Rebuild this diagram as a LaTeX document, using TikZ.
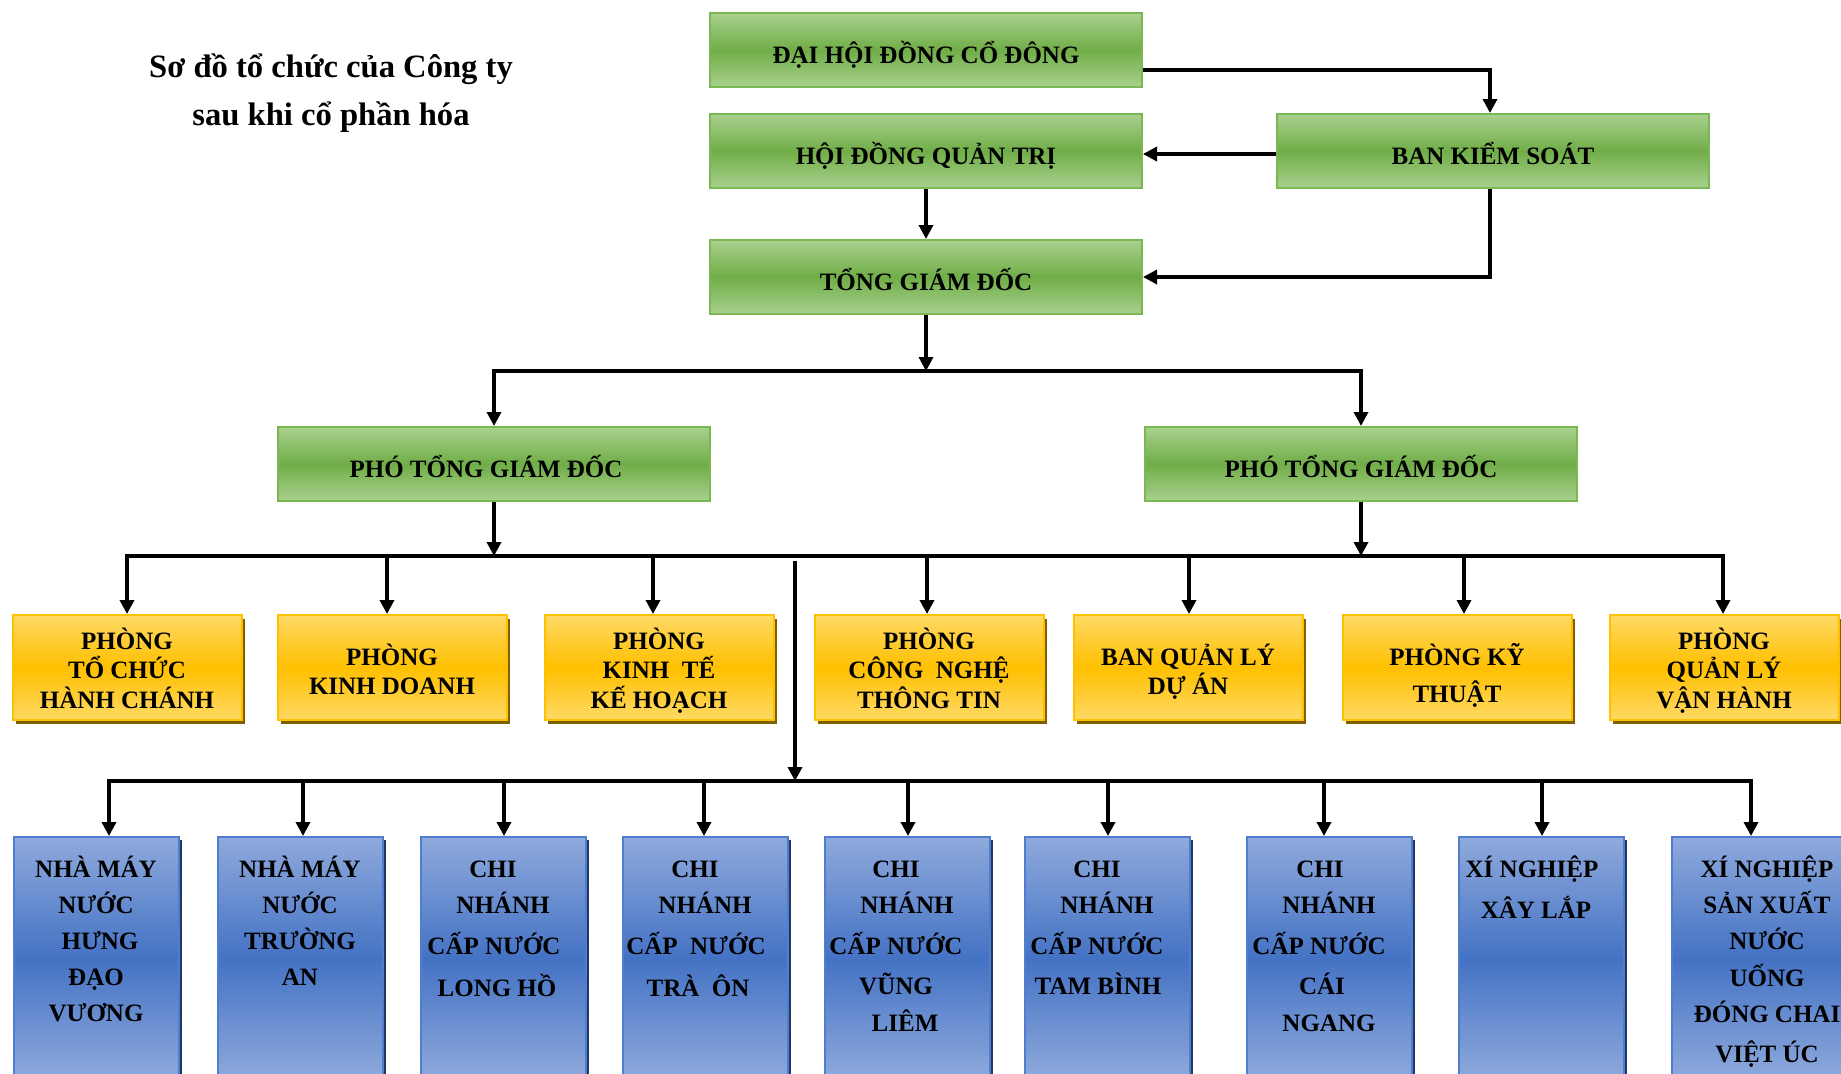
\documentclass[tikz,border=0pt]{standalone}
\usepackage{fontspec}
\setmainfont{Liberation Serif}
\usetikzlibrary{arrows.meta,shadows}
\definecolor{gTop}{RGB}{169,209,142}
\definecolor{gMid}{RGB}{112,173,71}
\definecolor{gBorder}{RGB}{122,184,84}
\definecolor{yTop}{RGB}{255,217,102}
\definecolor{yMid}{RGB}{255,192,0}
\definecolor{yBorder}{RGB}{255,192,0}
\definecolor{yShadow}{RGB}{127,96,0}
\definecolor{bTop}{RGB}{143,170,220}
\definecolor{bMid}{RGB}{68,114,196}
\definecolor{bBorder}{RGB}{80,125,205}
\definecolor{bShadow}{RGB}{32,56,100}
\newcommand\fstr{\rule{0pt}{13pt}}
\begin{document}
\begin{tikzpicture}[x=0.5pt,y=-0.5pt,
  gbox/.style={draw=gBorder, line width=1pt, top color=gTop, bottom color=gTop, middle color=gMid,
    minimum width=216pt, minimum height=37pt, inner sep=0pt,
    font=\fontsize{12.5}{15}\selectfont\bfseries, text height=13pt, text depth=0pt},
  ybox/.style={draw=yBorder, line width=1pt, top color=yTop, bottom color=yTop, middle color=yMid,
    minimum width=114.5pt, minimum height=52.5pt, inner sep=0pt,
    drop shadow={shadow xshift=1.5pt, shadow yshift=-2.2pt, fill=yShadow, opacity=1}},
  bbox/.style={draw=bBorder, line width=1pt, top color=bTop, bottom color=bTop, middle color=bMid,
    minimum width=82.5pt, minimum height=121.5pt, inner sep=0pt,
    drop shadow={shadow xshift=1.5pt, shadow yshift=-1.5pt, fill=bShadow, opacity=1}},
  ytext/.style={align=center, anchor=north, inner sep=0pt, font=\fontsize{12.5}{14.75}\selectfont\bfseries},
  btext/.style={align=center, anchor=north, inner sep=0pt, font=\fontsize{12.5}{18}\selectfont\bfseries},
  titletext/.style={align=center, anchor=north, inner sep=0pt, font=\fontsize{16.3}{24}\selectfont\bfseries},
  arr/.style={line width=1.7pt, -{Triangle[length=7pt,width=7pt]}}
]
\useasboundingbox (0,0) rectangle (1841,1073);
\clip (0,0) rectangle (1841,1073);

% title
\node[titletext] (title) at (331,43) {\rule{0pt}{17pt}Sơ đồ tổ chức của Công ty\\sau khi cổ phần hóa};

% green boxes
\node[gbox] (dhcd) at (926,50) {ĐẠI HỘI ĐỒNG CỔ ĐÔNG};
\node[gbox] (hdqt) at (926,151) {HỘI ĐỒNG QUẢN TRỊ};
\node[gbox] (tgd) at (926,277) {TỔNG GIÁM ĐỐC};
\node[gbox] (bks) at (1493,151) {BAN KIỂM SOÁT};
\node[gbox] (ptgd1) at (494,464) {PHÓ TỔNG GIÁM ĐỐC\kern8pt};
\node[gbox] (ptgd2) at (1361,464) {PHÓ TỔNG GIÁM ĐỐC};

% yellow boxes
\node[ybox] (yb1) at (127,667.5) {};
\node[ybox] (yb2) at (392,667.5) {};
\node[ybox] (yb3) at (659,667.5) {};
\node[ybox] (yb4) at (929,667.5) {};
\node[ybox] (yb5) at (1188,667.5) {};
\node[ybox] (yb6) at (1457,667.5) {};
\node[ybox] (yb7) at (1724,667.5) {};
\node[ytext] (yt1) at ([yshift=-4.5pt]yb1.north) {\fstr PHÒNG\\TỔ CHỨC\\HÀNH CHÁNH};
\node[ytext] (yt2) at ([yshift=-12.5pt]yb2.north) {\fstr PHÒNG\\KINH DOANH};
\node[ytext] (yt3) at ([yshift=-4.5pt]yb3.north) {\fstr PHÒNG\\KINH~~TẾ\\KẾ HOẠCH};
\node[ytext] (yt4) at ([yshift=-4.5pt]yb4.north) {\fstr PHÒNG\\CÔNG~~NGHỆ\\THÔNG TIN};
\node[ytext] (yt5) at ([yshift=-12.5pt]yb5.north) {\fstr BAN QUẢN LÝ\\DỰ ÁN};
\node[ytext] (yt6) at ([yshift=-12.5pt]yb6.north) {\fstr PHÒNG KỸ\\[3.75pt]THUẬT};
\node[ytext] (yt7) at ([yshift=-4.5pt]yb7.north) {\fstr PHÒNG\\QUẢN LÝ\\VẬN HÀNH};

% blue boxes
\node[bbox] (bb1) at (96,958.5) {};
\node[bbox] (bb2) at (300,958.5) {};
\node[bbox] (bb3) at (503,958.5) {};
\node[bbox] (bb4) at (705,958.5) {};
\node[bbox] (bb5) at (907,958.5) {};
\node[bbox] (bb6) at (1107,958.5) {};
\node[bbox] (bb7) at (1329,958.5) {};
\node[bbox] (bb8) at (1541,958.5) {};
\node[bbox, minimum width=86pt] (bb9) at (1758,958.5) {};
\node[btext] (bt1) at ([yshift=-7.5pt]bb1.north) {\fstr NHÀ MÁY\\NƯỚC\\\kern4pt HƯNG\\ĐẠO\\VƯƠNG};
\node[btext] (bt2) at ([yshift=-7.5pt]bb2.north) {\fstr NHÀ MÁY\\NƯỚC\\TRƯỜNG\\AN};
\node[btext] (bt3) at ([yshift=-7.5pt]bb3.north) {\fstr CHI\kern10pt\\NHÁNH\\[2.5pt]CẤP NƯỚC\kern9pt\\[3pt]LONG HỒ\kern6pt};
\node[btext] (bt4) at ([yshift=-7.5pt]bb4.north) {\fstr CHI\kern10pt\\NHÁNH\\[2.5pt]CẤP~~NƯỚC\kern9pt\\[3pt]TRÀ~~ÔN\kern7pt};
\node[btext] (bt5) at ([yshift=-7.5pt]bb5.north) {\fstr CHI\kern11pt\\NHÁNH\\[2.5pt]CẤP NƯỚC\kern11pt\\[2pt]VŨNG\kern11pt\\[0.5pt]LIÊM\kern2pt};
\node[btext] (bt6) at ([yshift=-7.5pt]bb6.north) {\fstr CHI\kern10pt\\NHÁNH\\[2.5pt]CẤP NƯỚC\kern10pt\\[2pt]TAM BÌNH\kern9pt};
\node[btext] (bt7) at ([yshift=-7.5pt]bb7.north) {\fstr CHI\kern9pt\\NHÁNH\\[2.5pt]CẤP NƯỚC\kern10pt\\[2pt]CÁI\kern7pt\\[0.5pt]NGANG};
\node[btext] (bt8) at ([yshift=-7.5pt]bb8.north) {\fstr XÍ NGHIỆP\kern9pt\\[2.5pt]XÂY LẮP\kern5pt};
\node[btext] (bt9) at ([xshift=4.5pt,yshift=-7.5pt]bb9.north) {\fstr XÍ NGHIỆP\\SẢN XUẤT\\NƯỚC\\[0.5pt]UỐNG\\ĐÓNG CHAI\\[2pt]VIỆT ÚC};

% bus coordinates
\coordinate (b1) at (926,371);
\coordinate (b2) at (795,556);
\coordinate (v0) at (795,561);
\coordinate (b3) at (795,781);

% connectors (top)
\draw[arr] ([yshift=-10pt]dhcd.east) -| ([xshift=-1.5pt]bks.north);
\draw[arr] ([yshift=-1.5pt]bks.west) -- ([yshift=-1.5pt]hdqt.east);
\draw[arr] ([xshift=-1.5pt]bks.south) |- (tgd.east);
\draw[arr] (hdqt.south) -- (tgd.north);
\draw[arr] (tgd.south) -- (b1);
\draw[arr] (b1) -| (ptgd1.north);
\draw[arr] (b1) -| (ptgd2.north);
\draw[arr] (ptgd1.south) -- (ptgd1.south |- b2);
\draw[arr] (ptgd2.south) -- (ptgd2.south |- b2);

% yellow level
\foreach \n/\s in {yb1/0,yb2/-2.5,yb3/-3,yb4/-1,yb5/0.5,yb6/3.5,yb7/-0.5}
  \draw[arr] (b2) -| ([xshift=\s pt]\n.north);

% bottom level
\draw[arr] (v0) -- (b3);
\foreach \n/\s in {bb1/6.5,bb2/1.5,bb3/0.5,bb4/-0.5,bb5/0.5,bb6/0.5,bb7/-2.5,bb8/0.5,bb9/-3.5}
  \draw[arr] (b3) -| ([xshift=\s pt]\n.north);
\end{tikzpicture}
\end{document}
